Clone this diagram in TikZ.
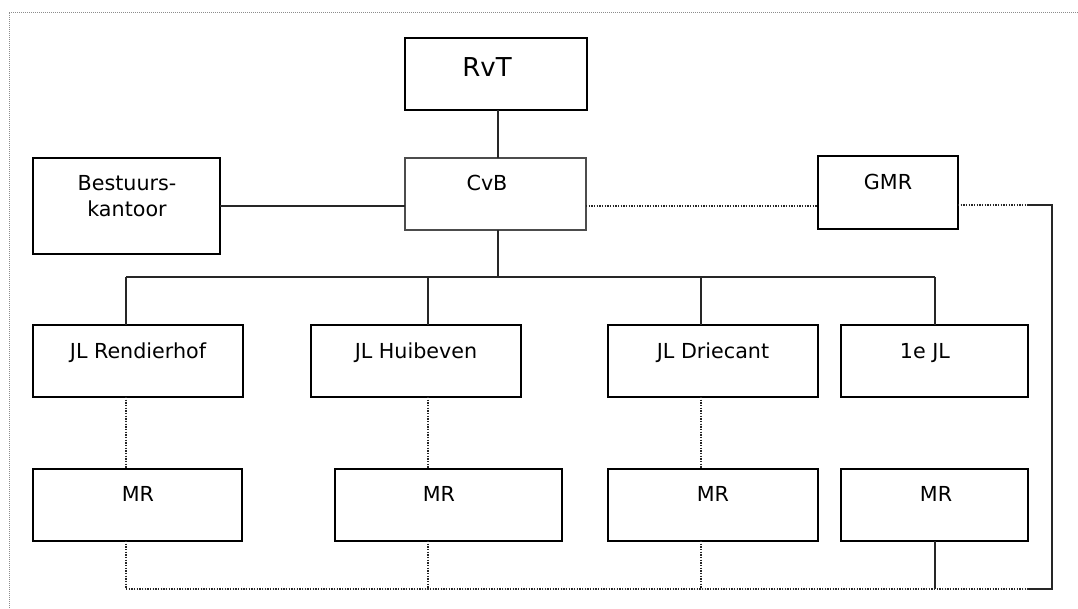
\documentclass[tikz,border=0pt]{standalone}
\usepackage{fontspec}
\setmainfont{DejaVu Sans}
\begin{document}
\begin{tikzpicture}[x={(0.75pt,0)},y={(0,-0.75pt)},
  box/.style={draw=black,line width=1.8pt,inner sep=0pt,outer sep=0pt,rectangle},
  thinbox/.style={draw=black!70,line width=1.1pt},
  lbl/.style={inner sep=0pt,outer sep=0pt,anchor=base,font=\fontsize{15.5}{19}\selectfont},
  biglbl/.style={lbl,font=\fontsize{19.5}{23}\selectfont},
  conn/.style={line width=1.4pt,draw=black!85},
  dotline/.style={line width=1.1pt,draw=black!85,dash pattern=on 1pt off 1pt},
  frame/.style={line width=0.7pt,draw=black!45,dash pattern=on 0.75pt off 0.75pt}]
\newcommand\bx[6][]{\node[box,#1,minimum width={(#4-#2)*0.75pt},minimum height={(#5-#3)*0.75pt}] (#6) at ({(#2+#4)/2},{(#3+#5)/2}) {};}
\useasboundingbox (0,0) rectangle (1078,608);
% outer frame
\draw[frame] (9,608) -- (9,12) -- (1078,12);
% boxes
\bx{405}{38}{587}{110}{rvt}
\bx[thinbox]{405}{158}{586}{230}{cvb}
\bx{33}{158}{220}{254}{bk}
\bx{818}{156}{958}{229}{gmr}
\bx{33}{325}{243}{397}{jl1}
\bx{311}{325}{521}{397}{jl2}
\bx{608}{325}{818}{397}{jl3}
\bx{841}{325}{1028}{397}{jl4}
\bx{33}{469}{242}{541}{mr1}
\bx{335}{469}{562}{541}{mr2}
\bx{608}{469}{818}{541}{mr3}
\bx{841}{469}{1028}{541}{mr4}
% labels
\node[biglbl] (t-rvt) at (487,76) {RvT};
\node[lbl] (t-cvb) at (487,190) {CvB};
\node[lbl] (t-bk1) at (127,190) {Bestuurs-};
\node[lbl] (t-bk2) at (127,216) {kantoor};
\node[lbl] (t-gmr) at (888,189) {GMR};
\node[lbl] (t-jl1) at (138,358) {JL Rendierhof};
\node[lbl] (t-jl2) at (416,358) {JL Huibeven};
\node[lbl] (t-jl3) at (713,358) {JL Driecant};
\node[lbl] (t-jl4) at (925,358) {1e JL};
\node[lbl] (t-mr1) at (138,501) {MR};
\node[lbl] (t-mr2) at (439,501) {MR};
\node[lbl] (t-mr3) at (713,501) {MR};
\node[lbl] (t-mr4) at (936,501) {MR};
% helper coordinates
\coordinate (bus) at (498,277);
\coordinate (d1) at (126,277);
\coordinate (d2) at (428,277);
\coordinate (d3) at (701,277);
\coordinate (d4) at (935,277);
\coordinate (hy) at (0,206);
\coordinate (g1) at (1027,205);
\coordinate (g2) at (1052,205);
\coordinate (b1) at (1027,589);
\coordinate (b2) at (1052,589);
\coordinate (bl) at (126,589);
% solid connectors
\draw[conn] (rvt.south -| bus) -- (cvb.north -| bus);
\draw[conn] (bk.east |- hy) -- (cvb.west |- hy);
\draw[conn] (cvb.south -| bus) -- (bus);
\draw[conn] (d1) -- (d4);
\draw[conn] (d1) -- (d1 |- jl1.north);
\draw[conn] (d2) -- (d2 |- jl2.north);
\draw[conn] (d3) -- (d3 |- jl3.north);
\draw[conn] (d4) -- (d4 |- jl4.north);
\draw[conn] (g1) -- (g2) -- (b2) -- (b1);
\draw[conn] (mr4.south -| d4) -- (d4 |- b1);
% dotted connectors
\draw[dotline] (cvb.east |- hy) -- (gmr.west |- hy);
\draw[dotline] (gmr.east |- g1) -- (g1);
\draw[dotline] (bl) -- (b1);
\draw[dotline] (d1 |- jl1.south) -- (d1 |- mr1.north);
\draw[dotline] (d2 |- jl2.south) -- (d2 |- mr2.north);
\draw[dotline] (d3 |- jl3.south) -- (d3 |- mr3.north);
\draw[dotline] (d1 |- mr1.south) -- (bl);
\draw[dotline] (d2 |- mr2.south) -- (d2 |- bl);
\draw[dotline] (d3 |- mr3.south) -- (d3 |- bl);
\end{tikzpicture}
\end{document}
